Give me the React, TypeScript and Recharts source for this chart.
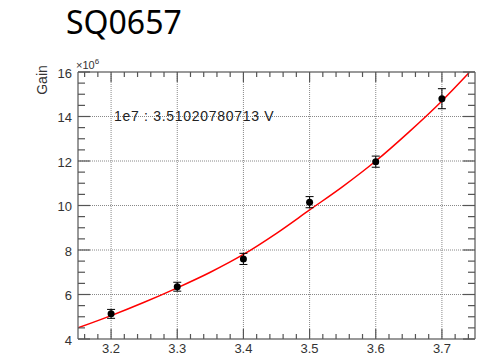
import React from "react";
import {
  ComposedChart,
  XAxis,
  YAxis,
  Line,
  Scatter,
  ErrorBar,
  ReferenceLine,
} from "recharts";

// ---- data ----
const voltages = [3.2, 3.3, 3.4, 3.5, 3.6, 3.7];
const gains = [5.13, 6.35, 7.6, 10.15, 11.97, 14.8];
const gainErrors = [0.2, 0.2, 0.25, 0.25, 0.25, 0.45];

const fitVoltages = [3.15, 3.2, 3.25, 3.3, 3.35, 3.4, 3.45, 3.5, 3.55, 3.6, 3.65, 3.7, 3.742];
const fitGains = [4.5, 5.05, 5.65, 6.3, 7.0, 7.8, 8.75, 9.8, 10.85, 12.0, 13.3, 14.7, 16.0];

const xMajorTicks = [3.2, 3.3, 3.4, 3.5, 3.6, 3.7];
const xMinorTicks = [
  3.16, 3.18, 3.2, 3.22, 3.24, 3.26, 3.28, 3.3, 3.32, 3.34, 3.36, 3.38, 3.4,
  3.42, 3.44, 3.46, 3.48, 3.5, 3.52, 3.54, 3.56, 3.58, 3.6, 3.62, 3.64, 3.66,
  3.68, 3.7, 3.72, 3.74,
];
const yMajorTicks = [4, 6, 8, 10, 12, 14, 16];
const yMinorTicks = [
  4, 4.5, 5, 5.5, 6, 6.5, 7, 7.5, 8, 8.5, 9, 9.5, 10, 10.5, 11, 11.5, 12,
  12.5, 13, 13.5, 14, 14.5, 15, 15.5, 16,
];
const xGrid = [3.2, 3.3, 3.4, 3.5, 3.6, 3.7];
const yGrid = [6, 8, 10, 12, 14];

const titleText = "SQ0657";
const yAxisTitle = "Gain";
const annotation = "1e7 : 3.51020780713 V";

const points = voltages.map((v, i) => ({ x: v, y: gains[i], err: gainErrors[i] }));
const fitData = fitVoltages.map((v, i) => ({ x: v, y: fitGains[i] }));

const isIn = (v: number, arr: number[]) => arr.some((a) => Math.abs(a - v) < 1e-6);

const TICK = "#555";
const LABEL = "#333";
const FRAME = "#777";
const FONT = "'Liberation Sans', Arial, sans-serif";

const BottomTick = (props: any) => {
  const { x, y, payload } = props;
  const v = payload.value as number;
  const major = isIn(v, xMajorTicks);
  return (
    <g>
      <line x1={x} x2={x} y1={y} y2={y - (major ? 10 : 5)} stroke={TICK} strokeWidth={1.2} />
      {major && (
        <text x={x} y={y + 13.5} textAnchor="middle" fontSize={13} fontFamily={FONT} fill={LABEL}>
          {v.toFixed(1)}
        </text>
      )}
    </g>
  );
};

const TopTick = (props: any) => {
  const { x, y, payload } = props;
  const v = payload.value as number;
  const major = isIn(v, xMajorTicks);
  return (
    <g>
      <line x1={x} x2={x} y1={y} y2={y + (major ? 10 : 5)} stroke={TICK} strokeWidth={1.2} />
    </g>
  );
};

const LeftTick = (props: any) => {
  const { x, y, payload } = props;
  const v = payload.value as number;
  const major = isIn(v, yMajorTicks);
  return (
    <g>
      <line x1={x} x2={x + (major ? 12 : 7)} y1={y} y2={y} stroke={TICK} strokeWidth={1.2} />
      {major && (
        <text x={x - 6} y={y + 5.5} textAnchor="end" fontSize={13} fontFamily={FONT} fill={LABEL}>
          {v}
        </text>
      )}
    </g>
  );
};

const RightTick = (props: any) => {
  const { x, y, payload } = props;
  const v = payload.value as number;
  const major = isIn(v, yMajorTicks);
  return (
    <g>
      <line x1={x} x2={x - (major ? 12 : 7)} y1={y} y2={y} stroke={TICK} strokeWidth={1.2} />
    </g>
  );
};

const Dot = (props: any) => {
  const { cx, cy } = props;
  return <circle cx={cx} cy={cy} r={3.5} fill="#000" />;
};

export default function App() {
  return (
    <div style={{ position: "absolute", left: 0, top: 0, width: 501, height: 354, background: "#fff" }}>
      <ComposedChart
        width={501}
        height={354}
        margin={{ top: 71, right: 0, bottom: 0, left: 0 }}
      >
        <XAxis
          xAxisId="b"
          dataKey="x"
          type="number"
          domain={[3.15, 3.75]}
          allowDataOverflow
          ticks={xMinorTicks}
          interval={0}
          tick={BottomTick}
          tickLine={false}
          tickSize={0}
          tickMargin={0}
          height={15}
          axisLine={{ stroke: FRAME, strokeWidth: 1.5 }}
        />
        <XAxis
          xAxisId="t"
          orientation="top"
          dataKey="x"
          type="number"
          domain={[3.15, 3.75]}
          allowDataOverflow
          ticks={xMinorTicks}
          interval={0}
          tick={TopTick}
          tickLine={false}
          tickSize={0}
          tickMargin={0}
          height={1}
          axisLine={{ stroke: FRAME, strokeWidth: 1.5 }}
        />
        <YAxis
          yAxisId="l"
          type="number"
          domain={[4, 16]}
          allowDataOverflow
          ticks={yMinorTicks}
          interval={0}
          tick={LeftTick}
          tickLine={false}
          tickSize={0}
          tickMargin={0}
          width={78}
          axisLine={{ stroke: FRAME, strokeWidth: 1.5 }}
        />
        <YAxis
          yAxisId="r"
          orientation="right"
          type="number"
          domain={[4, 16]}
          allowDataOverflow
          ticks={yMinorTicks}
          interval={0}
          tick={RightTick}
          tickLine={false}
          tickSize={0}
          tickMargin={0}
          width={26}
          axisLine={{ stroke: FRAME, strokeWidth: 1.5 }}
        />
        {xGrid.map((g) => (
          <ReferenceLine key={"x" + g} xAxisId="b" yAxisId="l" x={g} stroke="#888" strokeDasharray="1 1" />
        ))}
        {yGrid.map((g) => (
          <ReferenceLine key={"y" + g} xAxisId="b" yAxisId="l" y={g} stroke="#888" strokeDasharray="1 1" />
        ))}
        <Line
          xAxisId="t"
          yAxisId="r"
          data={points}
          dataKey="y"
          stroke="none"
          dot={false}
          activeDot={false}
          isAnimationActive={false}
        />
        <Line
          xAxisId="b"
          yAxisId="l"
          data={fitData}
          dataKey="y"
          type="monotone"
          stroke="#ff0000"
          strokeWidth={1.5}
          dot={false}
          isAnimationActive={false}
        />
        <Scatter
          xAxisId="b"
          yAxisId="l"
          data={points}
          dataKey="y"
          shape={<Dot />}
          isAnimationActive={false}
        >
          <ErrorBar dataKey="err" direction="y" width={4} stroke="#000" strokeWidth={1} />
        </Scatter>
      </ComposedChart>
      <svg
        width={501}
        height={354}
        style={{ position: "absolute", left: 0, top: 0, pointerEvents: "none" }}
      >
        <text x={66} y={34} fontSize={32} fontFamily="'Noto Sans', sans-serif" fill="#000">
          {titleText}
        </text>
        <text
          x={47}
          y={80}
          transform="rotate(-90 47 80)"
          textAnchor="middle"
          fontSize={14}
          fontFamily={FONT}
          fill={LABEL}
        >
          {yAxisTitle}
        </text>
        <text x={76} y={69} fontSize={11} fontFamily={FONT} fill={LABEL}>
          ×10
          <tspan dy={-5} fontSize={8}>6</tspan>
        </text>
        <text x={114} y={121} fontSize={14} letterSpacing={0.7} fontFamily={FONT} fill="#222">
          {annotation}
        </text>
      </svg>
    </div>
  );
}
